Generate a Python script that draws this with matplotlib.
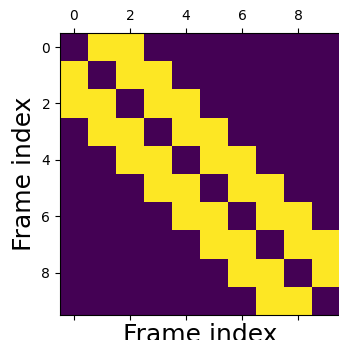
import matplotlib
matplotlib.use("Agg")
import matplotlib.pyplot as plt
import numpy as np

# frame-to-frame adjacency (1 = neighbour within two frames)
frames = list(range(10))
adjacency = [
    [0, 1, 1, 0, 0, 0, 0, 0, 0, 0],
    [1, 0, 1, 1, 0, 0, 0, 0, 0, 0],
    [1, 1, 0, 1, 1, 0, 0, 0, 0, 0],
    [0, 1, 1, 0, 1, 1, 0, 0, 0, 0],
    [0, 0, 1, 1, 0, 1, 1, 0, 0, 0],
    [0, 0, 0, 1, 1, 0, 1, 1, 0, 0],
    [0, 0, 0, 0, 1, 1, 0, 1, 1, 0],
    [0, 0, 0, 0, 0, 1, 1, 0, 1, 1],
    [0, 0, 0, 0, 0, 0, 1, 1, 0, 1],
    [0, 0, 0, 0, 0, 0, 0, 1, 1, 0],
]

fig = plt.figure(figsize=(3.39, 3.40), dpi=100)
ax = fig.add_axes([60 / 339, 25 / 340, 280 / 339, 282 / 340])
ax.matshow(np.array(adjacency), cmap="viridis", aspect="auto")
ax.set_xticks(frames[::2])
ax.set_yticks(frames[::2])
ax.set_xlabel("Frame index", fontsize=18, labelpad=2)
ax.set_ylabel("Frame index", fontsize=18)
fig.savefig("out.png", dpi=100)
